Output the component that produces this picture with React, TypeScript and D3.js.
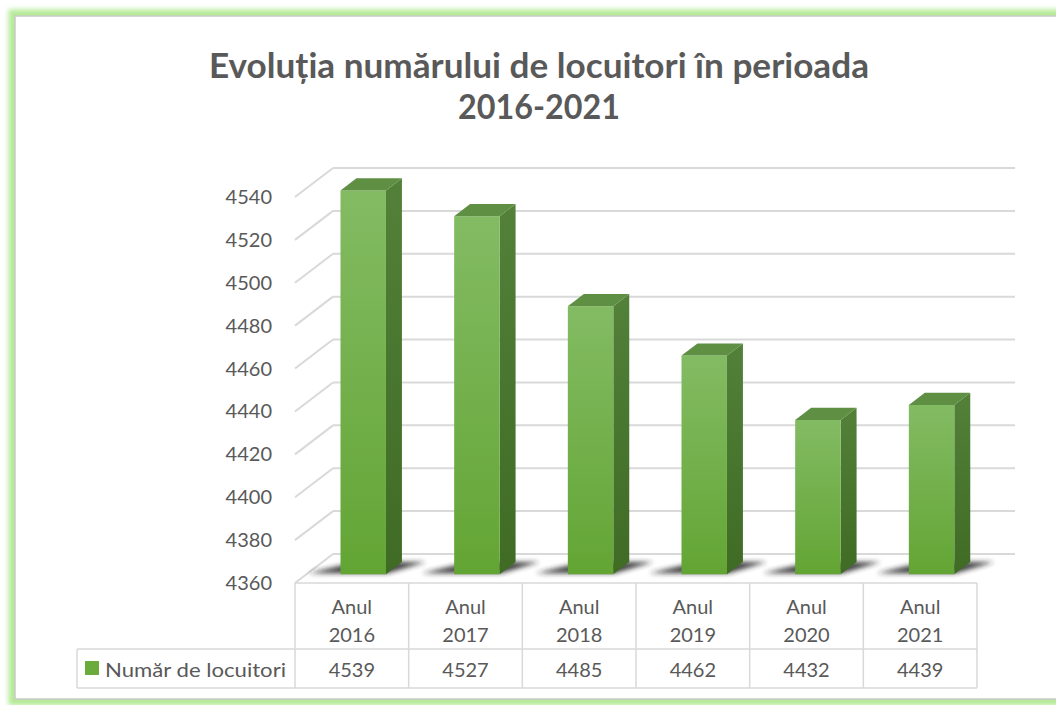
import React from "react";
import * as d3 from "d3";

const years = ["2016", "2017", "2018", "2019", "2020", "2021"];
const populatie = [4539, 4527, 4485, 4462, 4432, 4439];
const yTicks = [4360, 4380, 4400, 4420, 4440, 4460, 4480, 4500, 4520, 4540];
const titleLines = ["Evoluția numărului de locuitori în perioada", "2016-2021"];
const seriesName = "Număr de locuitori";

const W = 1056;
const H = 705;
const FONT = "Lato, 'Open Sans', sans-serif";
const TXT = "#595959";
const GRID = "#d9d9d9";

// depth offset of the back wall (oblique 3D)
const DX = 38;
const DY = -29;

const x = d3.scaleBand<string>().domain(years).range([295, 977]);
const y = d3.scaleLinear().domain([4360, 4540]).range([583, 197]);

const P = (px: number, v: number, d: number): [number, number] => [
  px + DX * d,
  y(v) + DY * d,
];
const poly = (pts: [number, number][]) => pts.map((p) => p.join(",")).join(" ");

const Bar = ({ year, value }: { year: string; value: number }) => {
  const bw = x.bandwidth();
  const xl = (x(year) ?? 0) + bw * 0.3;
  const xr = xl + bw * 0.4;
  const d1 = 0.3;
  const d2 = 0.72;
  const base = 4360;
  const front = [P(xl, value, d1), P(xr, value, d1), P(xr, base, d1), P(xl, base, d1)];
  const side = [P(xr, value, d1), P(xr, value, d2), P(xr, base, d2), P(xr, base, d1)];
  const top = [P(xl, value, d1), P(xl, value, d2), P(xr, value, d2), P(xr, value, d1)];
  const shadow = [
    P(xl - 34, base, d1 + 0.04),
    P(xr, base, d1 + 0.04),
    P(xr + 24, base, d2),
    P(xl, base, d2),
  ];
  return (
    <g>
      <polygon points={poly(shadow)} fill="#222" opacity={0.85} filter="url(#blur)" />
      <polygon points={poly(side)} fill="url(#sideGrad)" />
      <polygon points={poly(front)} fill="url(#frontGrad)" />
      <polygon points={poly(top)} fill="#5e8f43" />
    </g>
  );
};

export default function App() {
  const bw = x.bandwidth();
  const [x0, x1] = x.range();
  return (
    <div style={{ position: "absolute", left: 0, top: 0 }}>
      <svg width={W} height={H} style={{ display: "block", fontFamily: FONT }}>
        <defs>
          <linearGradient id="frontGrad" x1="0" y1="0" x2="0" y2="1">
            <stop offset="0%" stopColor="#83bb63" />
            <stop offset="100%" stopColor="#63a534" />
          </linearGradient>
          <linearGradient id="sideGrad" x1="0" y1="0" x2="0" y2="1">
            <stop offset="0%" stopColor="#53813a" />
            <stop offset="100%" stopColor="#3f6b24" />
          </linearGradient>
          <filter id="blur" x="-30%" y="-100%" width="160%" height="300%">
            <feGaussianBlur stdDeviation="2.5" />
          </filter>
          <filter id="glow" x="-5%" y="-5%" width="110%" height="110%">
            <feGaussianBlur stdDeviation="2.5" />
          </filter>
        </defs>

        <rect x={0} y={0} width={W} height={H} fill="#fff" />
        {/* frame */}
        <rect x={15} y={16} width={W + 20} height={683} fill="none" stroke="#b3ea94" strokeWidth={13} filter="url(#glow)" />
        <rect x={15} y={16} width={W + 20} height={683} fill="#fff" stroke="#c9c9c9" strokeWidth={1.5} />

        {/* title */}
        {titleLines.map((t, i) => (
          <text
            key={i}
            x={539}
            y={78 + i * 41}
            textAnchor="middle"
            fontSize={34}
            fontWeight={700}
            fill={TXT}
            textLength={i === 0 ? 660 : 162}
            lengthAdjust="spacingAndGlyphs"
          >
            {t}
          </text>
        ))}

        {/* gridlines: back wall + side wall */}
        {yTicks.map((v) => {
          const [bx0, by] = P(x0, v, 1);
          const [bx1] = P(x1, v, 1);
          return (
            <g key={v} stroke={GRID} strokeWidth={2} fill="none">
              <line x1={bx0} y1={by} x2={bx1} y2={by} />
              <line x1={x0} y1={y(v)} x2={bx0} y2={by} />
            </g>
          );
        })}

        {/* y labels */}
        {yTicks.map((v) => (
          <text key={v} x={272} y={y(v) + 7} textAnchor="end" fontSize={20} fill={TXT}>
            {v}
          </text>
        ))}

        {/* bars */}
        {years.map((yr, i) => (
          <Bar key={yr} year={yr} value={populatie[i]} />
        ))}

        {/* data table */}
        <g stroke={GRID} strokeWidth={1.5} fill="none">
          <line x1={x0} y1={583} x2={x1} y2={583} />
          <line x1={77} y1={649} x2={x1} y2={649} />
          <line x1={77} y1={688} x2={x1} y2={688} />
          <line x1={77} y1={649} x2={77} y2={688} />
          {years.map((yr) => (
            <line key={yr} x1={x(yr)} y1={583} x2={x(yr)} y2={688} />
          ))}
          <line x1={x1} y1={583} x2={x1} y2={688} />
        </g>
        {years.map((yr, i) => {
          const cx = (x(yr) ?? 0) + bw / 2;
          return (
            <g key={yr} fill={TXT} fontSize={20} textAnchor="middle">
              <text x={cx} y={614}>Anul</text>
              <text x={cx} y={642}>{yr}</text>
              <text x={cx} y={677}>{populatie[i]}</text>
            </g>
          );
        })}
        <rect x={85} y={661} width={14} height={14} fill="#6aab3c" />
        <text x={105} y={677} fontSize={20} fill={TXT} textLength={181} lengthAdjust="spacingAndGlyphs">
          {seriesName}
        </text>
      </svg>
    </div>
  );
}
